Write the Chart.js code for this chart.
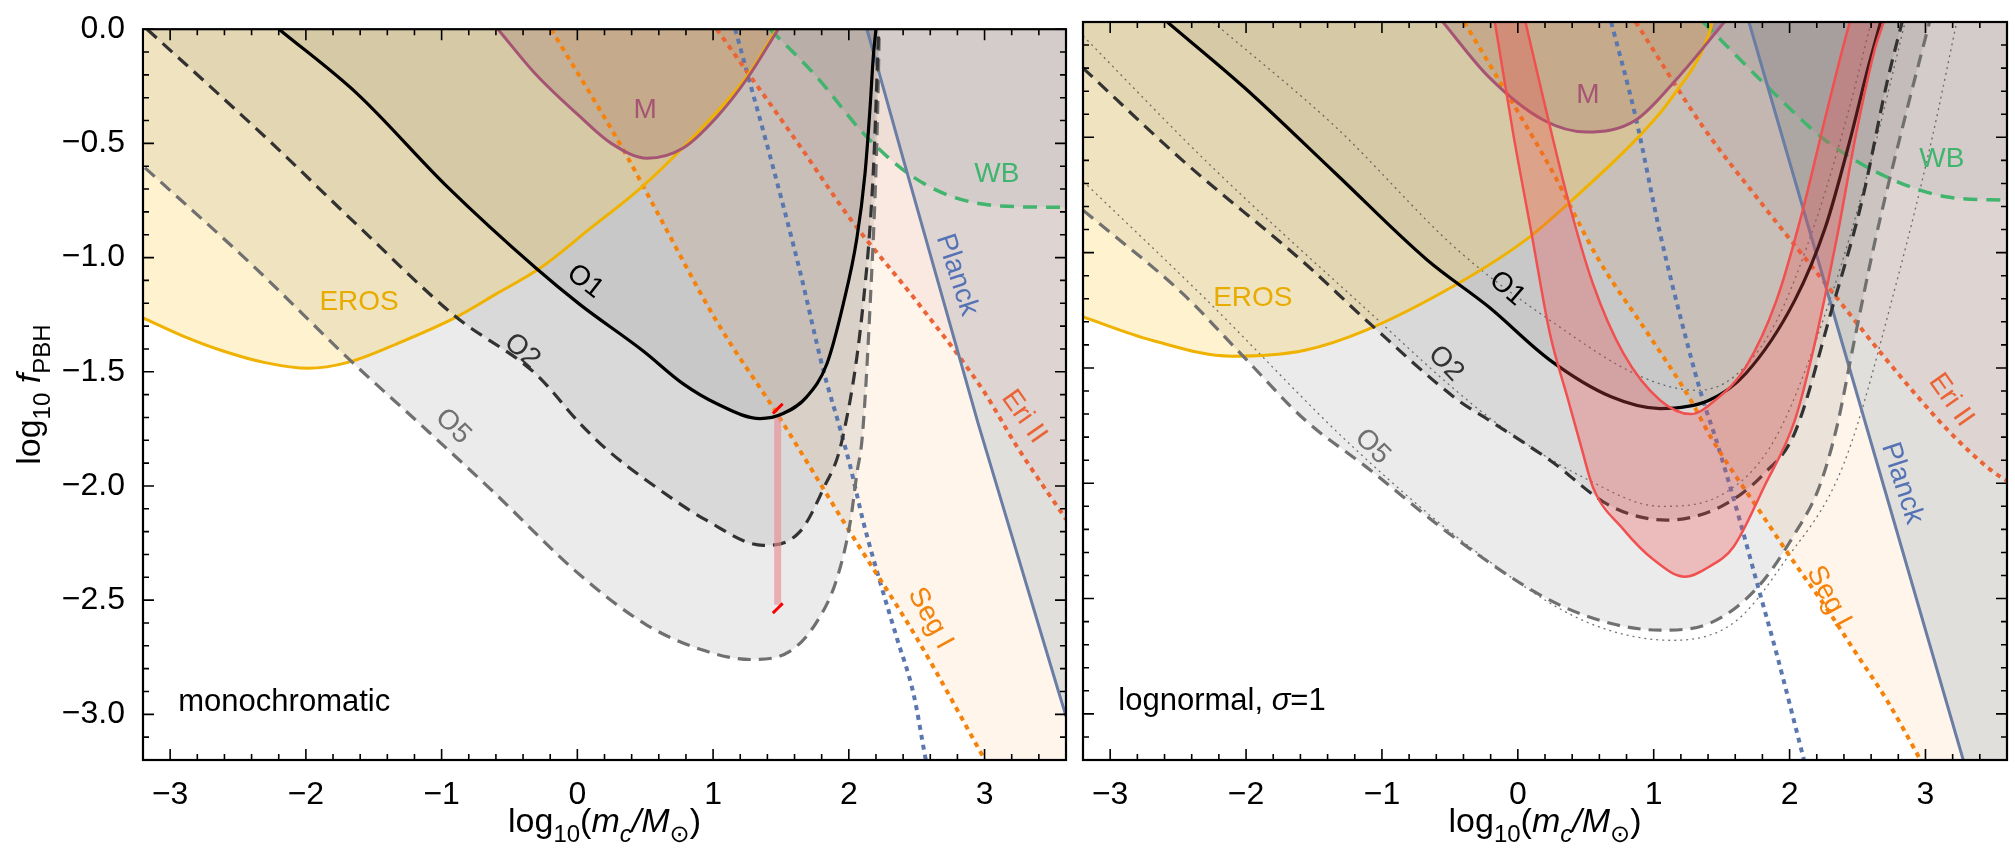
<!DOCTYPE html>
<html>
<head>
<meta charset="utf-8">
<script src="https://cdn.jsdelivr.net/npm/chart.js@4.4.1/dist/chart.umd.min.js"></script>
<style>
  html, body { margin: 0; padding: 0; background: #fff; }
  #wrap { position: relative; width: 2015px; height: 862px; }
  .panel { position: absolute; top: 0; height: 862px; }
  #p1 { left: 0; width: 1075px; }
  #p2 { left: 1075px; width: 940px; }
</style>
</head>
<body>
<div id="wrap">
  <div class="panel" id="p1"><canvas id="monoChart"></canvas></div>
  <div class="panel" id="p2"><canvas id="lognChart"></canvas></div>
</div>
<script>
// ---- axes ----
const xTickValues = [-3, -2, -1, 0, 1, 2, 3];
const yTickValues = [0, -0.5, -1, -1.5, -2, -2.5, -3];

// ---- monochromatic panel: [log10 m, log10 f] ----
const erosMono = [[-3.2,-1.264],[-2.9,-1.345],[-2.61,-1.409],[-2.3,-1.46],[-1.984,-1.485],[-1.69,-1.459],[-1.3,-1.37],[-0.9,-1.263],[-0.6,-1.16],[-0.274,-1.046],[0.1,-0.87],[0.485,-0.686],[0.905,-0.44],[1.236,-0.217],[1.47,0]];
const mMono = [[-0.585,0],[-0.31,-0.195],[0.02,-0.383],[0.25,-0.5],[0.514,-0.565],[0.78,-0.52],[1.03,-0.383],[1.25,-0.217],[1.48,0]];
const o1Mono = [[-2.198,0],[-1.623,-0.282],[-0.965,-0.686],[-0.306,-1.046],[0.02,-1.206],[0.485,-1.409],[0.78,-1.553],[1.028,-1.64],[1.347,-1.705],[1.516,-1.683],[1.69,-1.61],[1.838,-1.466],[1.958,-1.206],[2.059,-0.917],[2.12,-0.628],[2.157,-0.339],[2.18,-0.123],[2.2,0]];
const o2Mono = [[-3.17,0],[-2.28,-0.483],[-1.6,-0.87],[-0.9,-1.257],[-0.306,-1.51],[0.02,-1.727],[0.22,-1.842],[0.536,-1.987],[0.95,-2.15],[1.37,-2.26],[1.64,-2.2],[1.81,-2.015],[1.95,-1.8],[2.105,-1.206],[2.18,-0.628],[2.22,0]];
const o5Mono = [[-3.185,-0.607],[-2.4,-1.03],[-1.655,-1.46],[-1.162,-1.727],[-0.636,-2.016],[0.02,-2.39],[0.514,-2.61],[0.905,-2.715],[1.274,-2.76],[1.568,-2.723],[1.765,-2.594],[1.912,-2.406],[2.01,-2.16],[2.06,-1.943],[2.1,-1.78],[2.157,-1.206],[2.207,-0.483],[2.225,0]];
const planckMono = [[2.133,0],[2.953,-1.727],[3.594,-2.996],[3.7,-3.2]];
const wbMono = [[1.42,0],[1.764,-0.209],[2.106,-0.455],[2.428,-0.628],[2.747,-0.73],[3.115,-0.774],[3.6,-0.78]];
const eriMono = [[1.027,0],[1.641,-0.513],[2.01,-0.83],[2.5,-1.192],[2.99,-1.582],[3.237,-1.826],[3.6,-2.146]];
const segMono = [[-0.193,0],[0.352,-0.542],[0.536,-0.744],[1.027,-1.28],[1.47,-1.683],[2.01,-2.203],[2.5,-2.666],[2.99,-3.186],[3.6,-3.83]];
const blueMono = [[1.163,0],[1.273,-0.238],[1.42,-0.556],[1.641,-1.062],[1.813,-1.495],[1.936,-1.75],[2.01,-1.913],[2.108,-2.16],[2.23,-2.42],[2.354,-2.666],[2.477,-2.911],[2.563,-3.186],[2.6,-3.3]];
const barMono = [[1.476,-1.69],[1.476,-2.52]];
const tickTopMono = [[1.44,-1.683],[1.513,-1.64]];
const tickBotMono = [[1.44,-2.557],[1.513,-2.514]];

// ---- lognormal panel ----
const erosLogn = [[-3.2,-1.279],[-2.693,-1.38],[-2.107,-1.449],[-1.566,-1.423],[-1.116,-1.336],[-0.44,-1.134],[0.056,-0.946],[0.371,-0.787],[0.912,-0.484],[1.138,-0.325],[1.408,-0.05],[1.43,0]];
const mLogn = [[-0.552,0],[-0.214,-0.238],[0.191,-0.426],[0.507,-0.477],[0.867,-0.426],[1.183,-0.238],[1.52,0]];
const o1Logn = [[-2.58,0],[-2.017,-0.282],[-1.341,-0.657],[-0.665,-1.033],[-0.215,-1.235],[0.236,-1.466],[0.687,-1.625],[1.047,-1.676],[1.408,-1.64],[1.678,-1.524],[2.039,-1.206],[2.264,-0.889],[2.444,-0.513],[2.579,-0.195],[2.67,0]];
const o2Logn = [[-3.2,-0.2],[-2.468,-0.6],[-1.566,-1.047],[-1.116,-1.293],[-0.44,-1.64],[-0.214,-1.726],[0.236,-1.9],[0.687,-2.1],[1.093,-2.16],[1.498,-2.1],[1.813,-1.958],[2.039,-1.78],[2.309,-1.25],[2.534,-0.773],[2.715,-0.267],[2.828,0]];
const o5Logn = [[-3.2,-0.816],[-2.468,-1.177],[-2.017,-1.452],[-1.566,-1.726],[-1.116,-1.929],[-0.44,-2.247],[0.236,-2.507],[0.687,-2.608],[1.047,-2.637],[1.408,-2.608],[1.768,-2.449],[2.039,-2.218],[2.219,-2.015],[2.35,-1.75],[2.47,-1.4],[2.625,-0.96],[2.85,-0.412],[3.03,0]];
const planckLogn = [[1.701,0],[3.278,-3.2],[3.6,-3.854]];
const wbLogn = [[1.363,0],[1.814,-0.267],[2.264,-0.513],[2.715,-0.672],[3.165,-0.759],[3.6,-0.773]];
const eriLogn = [[0.867,0],[1.363,-0.455],[1.814,-0.802],[2.264,-1.134],[2.715,-1.466],[3.165,-1.77],[3.481,-1.943],[3.6,-1.99]];
const segLogn = [[-0.395,0],[-0.124,-0.267],[0.236,-0.629],[0.597,-1.033],[0.957,-1.351],[1.273,-1.64],[1.42,-1.8],[1.813,-2.15],[2.039,-2.348],[2.264,-2.535],[2.49,-2.738],[2.715,-2.94],[2.963,-3.2],[3.6,-3.9]];
const blueLogn = [[0.687,0],[0.867,-0.412],[1.047,-0.917],[1.228,-1.351],[1.363,-1.64],[1.453,-1.8],[1.633,-2.16],[1.768,-2.449],[1.904,-2.738],[2.106,-3.2]];
const redOuterLogn = [[-0.169,0],[-0.034,-0.484],[0.101,-0.917],[0.236,-1.351],[0.371,-1.64],[0.47,-1.85],[0.552,-2.016],[0.777,-2.2],[1.002,-2.333],[1.228,-2.405],[1.408,-2.362],[1.588,-2.275],[1.813,-2.015],[2.039,-1.726],[2.174,-1.423],[2.354,-0.917],[2.49,-0.484],[2.625,-0.123],[2.692,0]];
const redInnerLogn = [[0.056,0],[0.191,-0.34],[0.371,-0.773],[0.552,-1.134],[0.777,-1.437],[1.047,-1.64],[1.273,-1.7],[1.453,-1.64],[1.678,-1.495],[1.904,-1.206],[2.084,-0.845],[2.264,-0.412],[2.4,-0.094],[2.444,0]];
// thin dotted companion curves
const dot1Logn = [[-2.243,0],[-1.341,-0.455],[-0.44,-0.99],[0.236,-1.293],[0.912,-1.539],[1.318,-1.597],[1.588,-1.539],[1.9,-1.3],[2.2,-0.85],[2.45,-0.35],[2.6,0]];
const dot2Logn = [[-3.2,-0.06],[-2.3,-0.6],[-1.2,-1.2],[-0.2,-1.72],[0.5,-1.98],[1.05,-2.1],[1.5,-2.05],[1.9,-1.8],[2.3,-1.2],[2.6,-0.6],[2.85,0]];
const dot3Logn = [[-3.2,-0.69],[-2.3,-1.2],[-1.2,-1.85],[-0.3,-2.3],[0.5,-2.6],[1.138,-2.681],[1.6,-2.6],[1.95,-2.35],[2.4,-1.914],[2.8,-1.1],[3.05,-0.5],[3.23,0]];

const FONT = '"Liberation Sans", "DejaVu Sans", Arial, sans-serif';

const STYLE = {
  eros:   { line: 'rgb(240,178,0)',   fill: 'rgba(255,205,60,0.25)',  dash: [],      w: 3 },
  m:      { line: 'rgb(165,85,115)',  fill: 'rgba(110,40,120,0.2)',   dash: [],      w: 3 },
  o1:     { line: '#000',             fill: 'rgba(0,0,0,0.08)',       dash: [],      w: 3.2 },
  o2:     { line: 'rgb(50,50,50)',    fill: 'rgba(0,0,0,0.08)',       dash: [13, 8], w: 3.2 },
  o5:     { line: 'rgb(112,112,112)', fill: 'rgba(0,0,0,0.08)',       dash: [13, 8], w: 3.2 },
  planck: { line: 'rgb(105,125,165)', fill: 'rgba(215,215,215,0.75)', dash: [],      w: 3 },
  wb:     { line: 'rgb(65,180,110)',  fill: 'rgba(130,130,125,0.1)',  dash: [14, 9], w: 3.5 },
  eri:    { line: 'rgb(235,100,55)',  fill: 'rgba(190,90,90,0.08)',   dash: [5, 5],  w: 4 },
  seg:    { line: 'rgb(245,130,10)',  fill: 'rgba(255,160,60,0.1)',   dash: [5, 5],  w: 4 },
  blue:   { line: 'rgb(90,120,175)',  fill: null,                     dash: [5, 5],  w: 4 },
  thin:   { line: 'rgba(80,80,80,0.8)', fill: null,                   dash: [2, 4],  w: 1.3 },
  red:    { line: 'rgb(240,80,80)',   fill: 'rgba(235,75,75,0.3)',    dash: [],      w: 3 }
};

const pts = arr => arr.map(([x, y]) => ({ x, y }));

// fill-only dataset (higher order = painted earlier) and line-only dataset (painted later)
function area(arr, st, order) {
  return { data: pts(arr), fill: 'end', backgroundColor: st.fill, borderWidth: 0,
           pointRadius: 0, cubicInterpolationMode: 'monotone', order: 100 + order };
}
function line(arr, st, order) {
  return { data: pts(arr), fill: false, borderColor: st.line, borderWidth: st.w,
           borderDash: st.dash, pointRadius: 0, cubicInterpolationMode: 'monotone', order };
}

function fontOf(p, size) {
  return `${p.it ? 'italic ' : ''}${p.sub ? Math.round(size * 0.72) : size}px ${FONT}`;
}
function drawRich(ctx, parts, size, align) {
  let total = 0;
  for (const p of parts) { ctx.font = fontOf(p, size); total += ctx.measureText(p.t).width; }
  let x = align === 'left' ? 0 : -total / 2;
  ctx.textAlign = 'left';
  for (const p of parts) {
    ctx.font = fontOf(p, size);
    ctx.fillText(p.t, x, p.sub ? size * 0.28 : 0);
    x += ctx.measureText(p.t).width;
  }
}

const xTitle = [{ t: 'log' }, { t: '10', sub: true }, { t: '(' }, { t: 'm', it: true }, { t: 'c', it: true, sub: true },
                { t: '/', it: true }, { t: 'M', it: true }, { t: '⊙', sub: true }, { t: ')' }];
const yTitle = [{ t: 'log' }, { t: '10', sub: true }, { t: ' ' }, { t: 'f', it: true }, { t: 'PBH', sub: true }];

function decor(cfg) {
  return {
    id: 'decor',
    afterDatasetsDraw(chart) {
      const { ctx, scales: { x, y } } = chart;
      ctx.save();
      ctx.textAlign = 'center';
      ctx.textBaseline = 'middle';
      ctx.font = `28px ${FONT}`;
      for (const L of cfg.labels) {
        ctx.save();
        ctx.translate(x.getPixelForValue(L.x), y.getPixelForValue(L.y));
        ctx.rotate((L.rot || 0) * Math.PI / 180);
        ctx.fillStyle = L.color;
        ctx.fillText(L.text, 0, 0);
        ctx.restore();
      }
      ctx.restore();
      ctx.save();
      ctx.fillStyle = '#000';
      ctx.textBaseline = 'alphabetic';
      ctx.translate(x.getPixelForValue(cfg.corner.x), y.getPixelForValue(cfg.corner.y));
      drawRich(ctx, cfg.corner.parts, 31, 'left');
      ctx.restore();
    },
    afterDraw(chart) {
      const { ctx, chartArea: a, scales: { x, y } } = chart;
      ctx.save();
      ctx.strokeStyle = '#000';
      ctx.lineWidth = 1.6;
      ctx.beginPath();
      for (let i = -16; i <= 18; i++) {
        const px = x.getPixelForValue(i / 5);
        const len = i % 5 === 0 ? 11 : 6;
        ctx.moveTo(px, a.bottom); ctx.lineTo(px, a.bottom - len);
        ctx.moveTo(px, a.top); ctx.lineTo(px, a.top + len);
      }
      for (let i = -32; i <= 0; i++) {
        const py = y.getPixelForValue(i / 10);
        const len = i % 5 === 0 ? 11 : 6;
        ctx.moveTo(a.left, py); ctx.lineTo(a.left + len, py);
        ctx.moveTo(a.right, py); ctx.lineTo(a.right - len, py);
      }
      ctx.stroke();
      ctx.lineWidth = 2.2;
      ctx.strokeRect(a.left, a.top, a.right - a.left, a.bottom - a.top);

      ctx.fillStyle = '#000';
      ctx.textBaseline = 'alphabetic';
      ctx.save();
      ctx.translate((a.left + a.right) / 2, 832);
      drawRich(ctx, xTitle, 34, 'center');
      ctx.restore();
      if (cfg.yTitle) {
        ctx.save();
        ctx.translate(40, (a.top + a.bottom) / 2);
        ctx.rotate(-Math.PI / 2);
        drawRich(ctx, yTitle, 34, 'center');
        ctx.restore();
      }
      ctx.restore();
    }
  };
}

const minus = s => s.replace('-', '\u2212');

function makeOptions(showY, pad) {
  return {
    responsive: true,
    maintainAspectRatio: false,
    animation: false,
    events: [],
    layout: { padding: pad },
    plugins: { legend: { display: false }, tooltip: { enabled: false } },
    scales: {
      x: {
        type: 'linear', min: -3.2, max: 3.6,
        grid: { display: false }, border: { display: false },
        afterBuildTicks: s => { s.ticks = xTickValues.map(v => ({ value: v })); },
        afterFit: s => { s.height = 102; },
        ticks: { autoSkip: false, maxRotation: 0, padding: 8, color: '#000',
                 font: { family: FONT, size: 32 }, callback: v => minus(String(v)) }
      },
      y: {
        type: 'linear', min: -3.2, max: 0, display: showY,
        grid: { display: false }, border: { display: false },
        afterBuildTicks: s => { s.ticks = yTickValues.map(v => ({ value: v })); },
        afterFit: s => { s.width = showY ? 143 : 0; },
        ticks: { autoSkip: false, padding: 10, color: '#000',
                 font: { family: FONT, size: 32 }, callback: v => minus(v.toFixed(1)) }
      }
    }
  };
}

// paint order of the shaded regions: Seg I, Planck, Eri II, WB, M, O1, O2, O5, EROS
function regions(d) {
  return [
    area(d.eros, STYLE.eros, 1), area(d.o5, STYLE.o5, 2), area(d.o2, STYLE.o2, 3),
    area(d.o1, STYLE.o1, 4), area(d.m, STYLE.m, 5), area(d.wb, STYLE.wb, 6),
    area(d.eri, STYLE.eri, 7), area(d.planck, STYLE.planck, 8), area(d.seg, STYLE.seg, 9)
  ];
}
function outlines(d) {
  return [
    line(d.blue, STYLE.blue, 20), line(d.seg, STYLE.seg, 19), line(d.eri, STYLE.eri, 18),
    line(d.wb, STYLE.wb, 17), line(d.planck, STYLE.planck, 16), line(d.eros, STYLE.eros, 15),
    line(d.m, STYLE.m, 14), line(d.o5, STYLE.o5, 13), line(d.o2, STYLE.o2, 12), line(d.o1, STYLE.o1, 10)
  ];
}

// ---- left chart ----
const monoSet = { eros: erosMono, m: mMono, o1: o1Mono, o2: o2Mono, o5: o5Mono, planck: planckMono,
                  wb: wbMono, eri: eriMono, seg: segMono, blue: blueMono };
new Chart(document.getElementById('monoChart'), {
  type: 'line',
  data: {
    datasets: regions(monoSet).concat(outlines(monoSet), [
      line(barMono, { line: 'rgba(232,140,150,0.65)', dash: [], w: 7 }, 11),
      line(tickTopMono, { line: 'rgb(250,0,0)', dash: [], w: 3 }, 9),
      line(tickBotMono, { line: 'rgb(250,0,0)', dash: [], w: 3 }, 9)
    ])
  },
  options: makeOptions(true, { left: 0, right: 9, top: 22, bottom: 0 }),
  plugins: [decor({
    yTitle: true,
    corner: { x: -2.94, y: -2.985, parts: [{ t: 'monochromatic' }] },
    labels: [
      { text: 'EROS', x: -1.608, y: -1.196, color: 'rgb(232,172,0)' },
      { text: 'M', x: 0.5, y: -0.357, color: 'rgb(165,85,115)' },
      { text: 'O1', x: 0.057, y: -1.105, rot: 38, color: '#000' },
      { text: 'O2', x: -0.407, y: -1.409, rot: 42, color: 'rgb(50,50,50)' },
      { text: 'O5', x: -0.916, y: -1.74, rot: 45, color: 'rgb(112,112,112)' },
      { text: 'WB', x: 3.09, y: -0.636, color: 'rgb(65,180,110)' },
      { text: 'Planck', x: 2.796, y: -1.076, rot: 72, color: 'rgb(85,115,180)' },
      { text: 'Eri II', x: 3.29, y: -1.697, rot: 55, color: 'rgb(235,100,55)' },
      { text: 'Seg I', x: 2.6, y: -2.58, rot: 61, color: 'rgb(245,130,10)' }
    ]
  })]
});

// ---- right chart ----
const lognSet = { eros: erosLogn, m: mLogn, o1: o1Logn, o2: o2Logn, o5: o5Logn, planck: planckLogn,
                  wb: wbLogn, eri: eriLogn, seg: segLogn, blue: blueLogn };
const redBand = redOuterLogn.concat(redInnerLogn.slice().reverse());
new Chart(document.getElementById('lognChart'), {
  type: 'line',
  data: {
    datasets: regions(lognSet).concat(
      [line(dot1Logn, STYLE.thin, 30), line(dot2Logn, STYLE.thin, 30), line(dot3Logn, STYLE.thin, 30)],
      outlines(lognSet),
      [
        { data: pts(redBand), fill: 'shape', backgroundColor: STYLE.red.fill, borderWidth: 0,
          pointRadius: 0, tension: 0.2, order: 2 },
        line(redOuterLogn, { line: STYLE.red.line, dash: [], w: 2.5 }, 1),
        line(redInnerLogn, { line: STYLE.red.line, dash: [], w: 2.5 }, 1)
      ])
  },
  options: makeOptions(false, { left: 8, right: 8, top: 22, bottom: 0 }),
  plugins: [decor({
    yTitle: false,
    corner: { x: -2.94, y: -2.985, parts: [{ t: 'lognormal, ' }, { t: 'σ', it: true }, { t: '=1' }] },
    labels: [
      { text: 'EROS', x: -1.95, y: -1.196, color: 'rgb(232,172,0)' },
      { text: 'M', x: 0.516, y: -0.318, color: 'rgb(165,85,115)' },
      { text: 'O1', x: -0.079, y: -1.156, rot: 41, color: '#000' },
      { text: 'O2', x: -0.53, y: -1.481, rot: 46, color: 'rgb(50,50,50)' },
      { text: 'O5', x: -1.071, y: -1.842, rot: 45, color: 'rgb(112,112,112)' },
      { text: 'WB', x: 3.12, y: -0.597, color: 'rgb(65,180,110)' },
      { text: 'Planck', x: 2.827, y: -2.0, rot: 72, color: 'rgb(85,115,180)' },
      { text: 'Eri II', x: 3.188, y: -1.64, rot: 55, color: 'rgb(235,100,55)' },
      { text: 'Seg I', x: 2.287, y: -2.492, rot: 62, color: 'rgb(245,130,10)' }
    ]
  })]
});
</script>
</body>
</html>
